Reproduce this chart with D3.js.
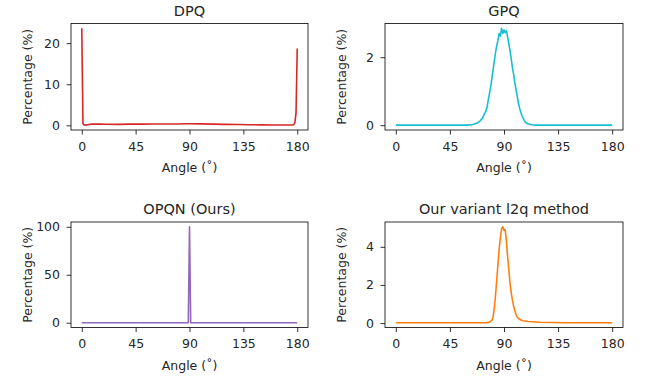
<!DOCTYPE html>
<html>
<head>
<meta charset="utf-8">
<script src="https://d3js.org/d3.v7.min.js"></script>
<style>
  body { margin: 0; background: #fff; }
  svg text { font-family: "DejaVu Sans", sans-serif; fill: #262626; }
</style>
</head>
<body>
<div id="chart"></div>
<script>
// x ticks shared by every panel
var angleTicks = [0, 45, 90, 135, 180];

// DPQ: spikes at both ends, almost flat in between
var dpqAngles = [0, 1, 2, 3, 5, 8, 10, 15, 20, 30, 40, 50, 60, 70, 80, 90, 100, 110, 120, 130, 140, 150, 160, 170, 176, 177, 178, 179, 180];
var dpqValues = [23.6, 0.4, 0.1, 0.05, 0.15, 0.3, 0.35, 0.3, 0.28, 0.25, 0.3, 0.3, 0.32, 0.35, 0.35, 0.38, 0.36, 0.3, 0.25, 0.2, 0.15, 0.12, 0.1, 0.08, 0.08, 0.15, 0.6, 3.0, 18.7];
var dpqTicks = [0, 10, 20];

// GPQ: wide bump around 90
var gpqAngles = [0, 60, 64, 66, 68, 70, 72, 73, 74, 75, 76, 77, 78, 79, 80, 81, 82, 83, 84, 85, 86, 87, 88, 89, 90, 91, 92, 93, 94, 95, 96, 97, 98, 99, 100, 101, 102, 103, 104, 105, 106, 107, 108, 110, 113, 116, 180];
var gpqValues = [0, 0, 0.02, 0.04, 0.07, 0.12, 0.2, 0.28, 0.35, 0.42, 0.55, 0.75, 0.95, 1.15, 1.4, 1.65, 1.9, 2.15, 2.35, 2.5, 2.7, 2.62, 2.85, 2.7, 2.8, 2.72, 2.78, 2.6, 2.4, 2.2, 1.95, 1.7, 1.5, 1.25, 1.05, 0.85, 0.65, 0.5, 0.38, 0.27, 0.2, 0.13, 0.08, 0.04, 0.01, 0, 0];
var gpqTicks = [0, 2];

// OPQN: everything at 90
var opqnAngles = [0, 89, 90, 91, 180];
var opqnValues = [0, 0, 100, 0, 0];
var opqnTicks = [0, 50, 100];

// variant l2q: narrow peak near 89
var l2qAngles = [0, 75, 78, 80, 81, 82, 83, 84, 85, 86, 87, 88, 89, 90, 91, 92, 93, 94, 95, 96, 97, 98, 99, 100, 101, 102, 104, 106, 110, 120, 140, 180];
var l2qValues = [0.02, 0.02, 0.05, 0.15, 0.35, 0.8, 1.5, 2.3, 3.1, 3.9, 4.5, 4.95, 5.05, 4.85, 4.9, 4.3, 3.5, 2.8, 2.1, 1.6, 1.2, 0.9, 0.65, 0.45, 0.32, 0.24, 0.16, 0.12, 0.08, 0.04, 0.02, 0.02];
var l2qTicks = [0, 2, 4];

var width = 645, height = 381;

var svg = d3.select("#chart").append("svg")
  .attr("width", width)
  .attr("height", height);

var panels = [
  { title: "DPQ", xs: dpqAngles, ys: dpqValues, ticks: dpqTicks, color: "#d62728", left: 71, right: 308, top: 23.5, bottom: 130 },
  { title: "GPQ", xs: gpqAngles, ys: gpqValues, ticks: gpqTicks, color: "#17becf", left: 385, right: 623, top: 23.5, bottom: 130 },
  { title: "OPQN (Ours)", xs: opqnAngles, ys: opqnValues, ticks: opqnTicks, color: "#9467bd", left: 71, right: 308, top: 222, bottom: 327.5 },
  { title: "Our variant l2q method", xs: l2qAngles, ys: l2qValues, ticks: l2qTicks, color: "#ff7f0e", left: 385, right: 623, top: 222, bottom: 327.5 }
];

panels.forEach(function(p) {
  var g = svg.append("g");

  // matplotlib style 5% margins
  var x = d3.scaleLinear().domain([-9, 189]).range([p.left, p.right]);
  var ext = d3.extent(p.ys);
  var pad = (ext[1] - ext[0]) * 0.05;
  var y = d3.scaleLinear().domain([ext[0] - pad, ext[1] + pad]).range([p.bottom, p.top]);

  var pts = p.xs.map(function(a, i) { return [a, p.ys[i]]; });

  g.append("path")
    .datum(pts)
    .attr("d", d3.line().x(function(d) { return x(d[0]); }).y(function(d) { return y(d[1]); }))
    .style("fill", "none")
    .style("stroke", p.color)
    .style("stroke-width", 1.6)
    .style("stroke-linejoin", "round");

  var xAxis = g.append("g")
    .attr("transform", "translate(0," + p.bottom + ")")
    .call(d3.axisBottom(x).tickValues(angleTicks).tickFormat(d3.format("d")).tickSize(4.5).tickPadding(7.5));
  var yAxis = g.append("g")
    .attr("transform", "translate(" + p.left + ",0)")
    .call(d3.axisLeft(y).tickValues(p.ticks).tickFormat(d3.format("d")).tickSize(4.5).tickPadding(6.5));

  [xAxis, yAxis].forEach(function(ax) {
    ax.select(".domain").remove();
    ax.selectAll("line").style("stroke", "#000").style("stroke-width", 0.8);
    ax.selectAll("text").style("font-size", "12.5px").style("font-family", "DejaVu Sans").style("fill", "#262626");
  });

  // frame
  g.append("rect")
    .attr("x", p.left).attr("y", p.top)
    .attr("width", p.right - p.left).attr("height", p.bottom - p.top)
    .style("fill", "none").style("stroke", "#000").style("stroke-width", 0.8);

  g.append("text")
    .attr("x", (p.left + p.right) / 2)
    .attr("y", p.top - 8)
    .attr("text-anchor", "middle")
    .style("font-size", "14.5px")
    .text(p.title);

  g.append("text")
    .attr("x", (p.left + p.right) / 2)
    .attr("y", p.bottom + 42)
    .attr("text-anchor", "middle")
    .style("font-size", "12.5px")
    .text("Angle (˚)");

  g.append("text")
    .attr("transform", "translate(" + (p.left - 39) + "," + ((p.top + p.bottom) / 2) + ") rotate(-90)")
    .attr("text-anchor", "middle")
    .style("font-size", "12.5px")
    .text("Percentage (%)");
});
</script>
</body>
</html>
